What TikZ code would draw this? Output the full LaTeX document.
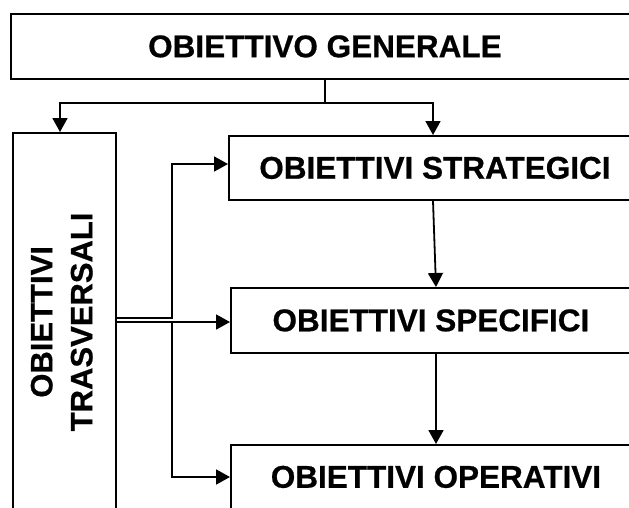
\documentclass[tikz,border=0pt]{standalone}
\usepackage{fontspec}
\setmainfont{Liberation Sans}
\newfontface\heavyface{Liberation Sans Bold}[FakeBold=0.6]
\usetikzlibrary{arrows.meta}
\begin{document}
\begin{tikzpicture}[x=1pt,y=-1pt,
  box/.style={draw, line width=1.8pt, inner sep=0pt, anchor=north west,
    font=\heavyface\fontsize{31.5}{38}\selectfont},
  conn/.style={line width=1.8pt},
  arr/.style={conn, -{Triangle[length=14pt,width=15pt]}}]
\useasboundingbox (0,0) rectangle (629,507);
\node[box, minimum width=628pt, minimum height=65pt] (gen) at (10,13) {OBIETTIVO GENERALE};
\node[box, minimum width=412pt, minimum height=64pt] (str) at (228,135) {OBIETTIVI STRATEGICI};
\node[box, minimum width=400pt, minimum height=65pt] (spe) at (230,287) {OBIETTIVI SPECIFICI};
\node[box, minimum width=410pt, minimum height=64pt] (ope) at (230,444) {OBIETTIVI OPERATIVI};
\node[box, minimum width=103pt, minimum height=378pt, font=\heavyface\fontsize{31}{40}\selectfont] (tra) at (12,132)
  {\rotatebox{90}{\begin{tabular}{@{}c@{}}OBIETTIVI\\TRASVERSALI\end{tabular}}};
% top branching
\coordinate (j) at (325,103);
\coordinate (jl) at (60,103);
\coordinate (jr) at (433,103);
\draw[conn] (gen.south -| j) -- (j);
\draw[arr] (j) -- (jl) -- (jl |- tra.north);
\draw[arr] (j) -- (jr) -- (jr |- str.north);
% vertical chain
\coordinate (c1) at (433,0);
\coordinate (c2) at (436,0);
\draw[arr] (str.south -| c1) -- (spe.north -| c2);
\draw[arr] (spe.south -| c2) -- (ope.north -| c2);
% transversal connectors
\coordinate (k1) at (172,318);
\coordinate (k2) at (172,322);
\coordinate (ks) at (172,164);
\coordinate (ko) at (172,477);
\draw[arr] (tra.east |- k1) -- (k1) -- (ks) -- (str.west |- ks);
\draw[arr] (tra.east |- k2) -- (spe.west |- k2);
\draw[arr] (k2) -- (ko) -- (ope.west |- ko);
\end{tikzpicture}
\end{document}
